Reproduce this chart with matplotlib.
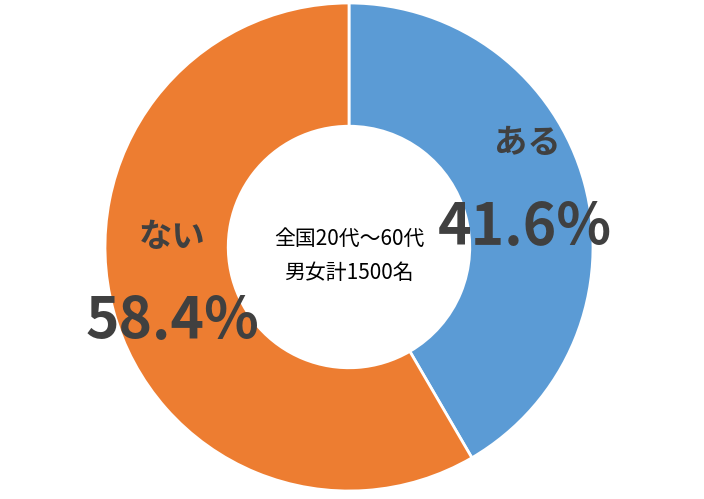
import matplotlib.pyplot as plt

plt.rcParams['font.family'] = ['Noto Sans CJK JP', 'DejaVu Sans']

# =========================
# DATA
# =========================

labels = ["ある", "ない"]
values = [41.6, 58.4]
colors = ["#5B9BD5", "#ED7D31"]
center_lines = ["全国20代～60代", "男女計1500名"]

# =========================
# PLOT
# =========================

fig = plt.figure(figsize=(7.04, 4.99), dpi=100)
ax = fig.add_axes([0, 0, 1, 1])

cx, cy, r = 349, 252, 244

ax.pie(
    values,
    colors=colors,
    startangle=90,
    counterclock=False,
    center=(cx, cy),
    radius=r,
    frame=True,
    wedgeprops=dict(width=r * 0.505, edgecolor="white", linewidth=2),
)
ax.set_xlim(0, 704)
ax.set_ylim(0, 499)
ax.set_aspect("equal")
ax.axis("off")

text_color = "#404040"

# label positions (pixels from top-left)
label_pos = [(527, 143), (172, 237)]
pct_pos = [(525, 228), (172, 322)]

for lab, val, (lx, ly), (px, py) in zip(labels, values, label_pos, pct_pos):
    ax.text(lx, 499 - ly, lab, ha="center", va="center",
            fontsize=24, fontweight="bold", color=text_color)
    ax.text(px, 499 - py, f"{val:.1f}%", ha="center", va="center",
            fontsize=41, fontweight="bold", color=text_color)

ax.text(cx, 499 - 239, center_lines[0], ha="center", va="center",
        fontsize=15, color="#000000")
ax.text(cx, 499 - 273, center_lines[1], ha="center", va="center",
        fontsize=15, color="#000000")

fig.savefig("out.png", dpi=100)
